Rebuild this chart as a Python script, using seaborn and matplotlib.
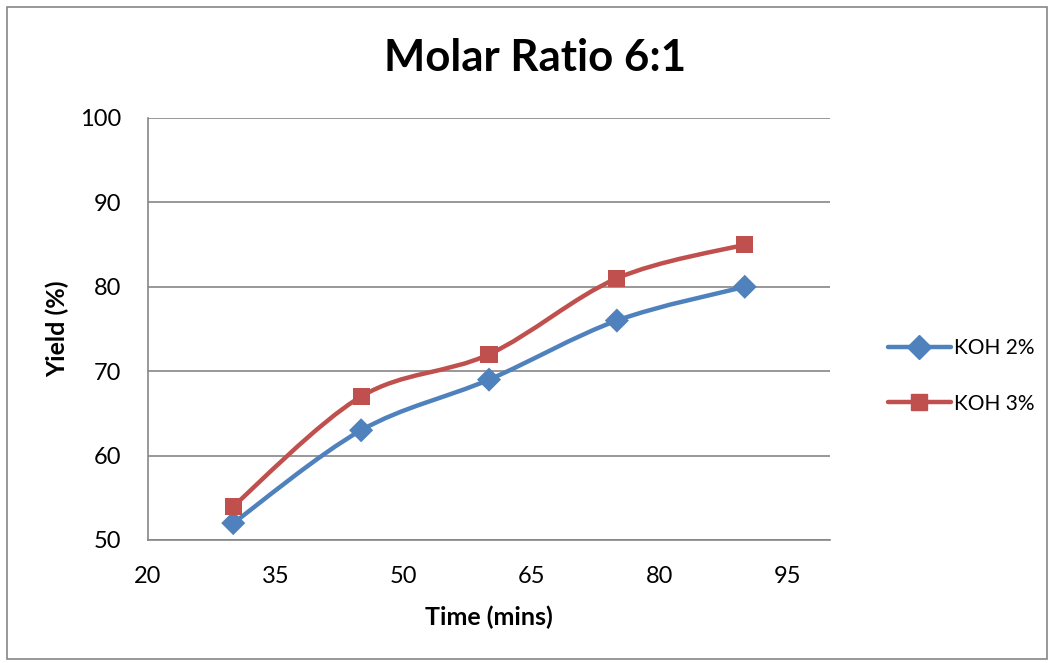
import matplotlib
matplotlib.use("Agg")
import matplotlib.pyplot as plt
from matplotlib.path import Path
from matplotlib.patches import PathPatch, Rectangle
from matplotlib.lines import Line2D
import seaborn as sns
import pandas as pd

# Reaction time (mins) and biodiesel yield (%) at a 6:1 molar ratio
time_mins = [30, 45, 60, 75, 90]
yield_koh2 = [52, 63, 69, 76, 80]
yield_koh3 = [54, 67, 72, 81, 85]
series_names = ["KOH 2%", "KOH 3%"]
x_ticks = [20, 35, 50, 65, 80, 95]
y_ticks = [50, 60, 70, 80, 90, 100]

colors = {"KOH 2%": "#4F81BD", "KOH 3%": "#C0504D"}
markers = {"KOH 2%": "D", "KOH 3%": "s"}

sns.set_theme(style="white")
plt.rcParams["font.family"] = ["Lato", "DejaVu Sans"]
plt.rcParams["text.color"] = "black"
plt.rcParams["axes.labelcolor"] = "black"

df = pd.DataFrame({
    "Time": time_mins * 2,
    "Yield": yield_koh2 + yield_koh3,
    "Series": [series_names[0]] * len(time_mins) + [series_names[1]] * len(time_mins),
})

fig = plt.figure(figsize=(10.54, 6.63), dpi=100)
ax = fig.add_axes([148 / 1054, 123 / 663, 682 / 1054, 422 / 663])

# Chart-area border
fig.patches.append(Rectangle((7 / 1054, 4 / 663), 1040 / 1054, 652 / 663,
                             transform=fig.transFigure, fill=False,
                             edgecolor="#868686", linewidth=1.2))


def smooth_path(xs, ys):
    """Catmull-Rom style cubic Bezier through the given points."""
    pts = list(zip(xs, ys))
    n = len(pts)
    verts = [pts[0]]
    codes = [Path.MOVETO]
    for i in range(n - 1):
        p0 = pts[i - 1] if i > 0 else pts[i]
        p1 = pts[i]
        p2 = pts[i + 1]
        p3 = pts[i + 2] if i + 2 < n else pts[i + 1]
        c1 = (p1[0] + (p2[0] - p0[0]) / 6, p1[1] + (p2[1] - p0[1]) / 6)
        c2 = (p2[0] - (p3[0] - p1[0]) / 6, p2[1] - (p3[1] - p1[1]) / 6)
        verts += [c1, c2, p2]
        codes += [Path.CURVE4] * 3
    return Path(verts, codes)


for name in series_names:
    sub = df[df["Series"] == name]
    ax.add_patch(PathPatch(smooth_path(sub["Time"].tolist(), sub["Yield"].tolist()),
                           facecolor="none", edgecolor=colors[name],
                           linewidth=3.2, capstyle="round", zorder=3))

sns.scatterplot(data=df, x="Time", y="Yield", hue="Series", style="Series",
                palette=colors, markers=markers, s=150, edgecolor="none",
                ax=ax, legend=False, zorder=4)

ax.set_xlim(20, 100)
ax.set_ylim(50, 100)
ax.set_xticks(x_ticks)
ax.set_yticks(y_ticks)
ax.tick_params(axis="both", length=0, labelsize=17, colors="black", pad=19)
ax.yaxis.grid(True, color="#868686", linewidth=1.2)
ax.xaxis.grid(False)
for side in ["top", "right"]:
    ax.spines[side].set_visible(False)
for side in ["left", "bottom"]:
    ax.spines[side].set_color("#868686")
    ax.spines[side].set_linewidth(1.2)

ax.set_xlabel("Time (mins)", fontsize=18, fontweight="bold")
ax.set_ylabel("Yield (%)", fontsize=18, fontweight="bold")
ax.xaxis.set_label_coords(0.5, -(606 - 540) / 422)
ax.yaxis.set_label_coords(-(148 - 69) / 682, 0.5)
fig.text(535 / 1054, 1 - 58 / 663, "Molar Ratio 6:1", fontsize=31.5,
         fontweight="bold", ha="center", va="center")

handles = [Line2D([0], [0], color=colors[n], marker=markers[n], markersize=12,
                  linewidth=3.2, solid_capstyle="round") for n in series_names]
fig.legend(handles, series_names, loc="center left",
           bbox_to_anchor=(888 / 1054, 1 - 376 / 663), frameon=False,
           fontsize=15, handlelength=3.0, handletextpad=0.15, labelspacing=1.7,
           borderpad=0, borderaxespad=0)

fig.savefig("out.png", dpi=100)
